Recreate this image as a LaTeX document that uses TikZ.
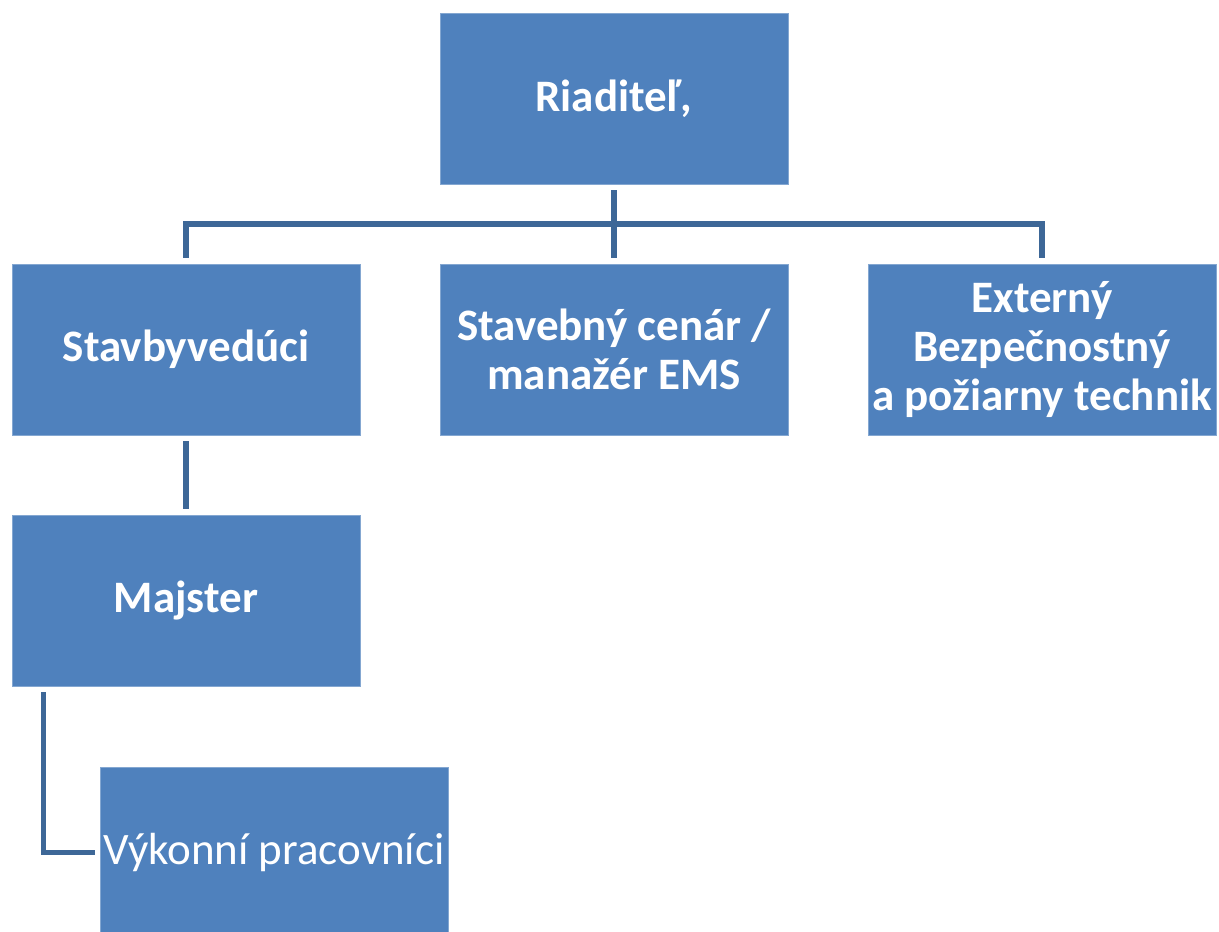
\documentclass[tikz,border=0pt]{standalone}
\usepackage{fontspec}
\setmainfont{Carlito}
\definecolor{boxblue}{HTML}{4F81BD}
\definecolor{lineblue}{HTML}{3D6797}
\begin{document}
\begin{tikzpicture}[x=1pt,y=-1pt,
  box/.style={rectangle, fill=boxblue, draw=boxblue!70!white, line width=0.8pt, minimum width=348pt, minimum height=171pt, inner sep=0pt, text=white, align=center, font=\fontsize{45}{49}\selectfont\bfseries},
  conn/.style={draw=lineblue, line width=5.5pt, line join=miter}]
\useasboundingbox (0,0) rectangle (1219,932);
\begin{scope}
\clip (0,0) rectangle (1219,932);
\node[box] (dir) at (614,98.5) {Riaditeľ,};
\node[box] (stav) at (186,349.5) {Stavbyvedúci};
\node[box] (cen) at (614,349.5) {Stavebný cenár /\\manažér EMS};
\node[box] (ext) at (1042,349.5) {Externý\\Bezpečnostný\\a požiarny technik};
\node[box] (maj) at (186,600.5) {Majster};
\node[box, font=\fontsize{45}{49}\selectfont] (vyk) at (274,852.5) {Výkonní pracovníci};
\end{scope}
\coordinate (bus) at (614,224);
\draw[conn] ([yshift=-6pt]dir.south) -- ([yshift=6pt]cen.north);
\draw[conn] ([yshift=6pt]stav.north) |- (bus) -| ([yshift=6pt]ext.north);
\draw[conn] ([yshift=-6pt]stav.south) -- ([yshift=6pt]maj.north);
\draw[conn] ([xshift=32pt,yshift=-6pt]maj.south west) |- ([xshift=-5pt]vyk.west);
\end{tikzpicture}
\end{document}
